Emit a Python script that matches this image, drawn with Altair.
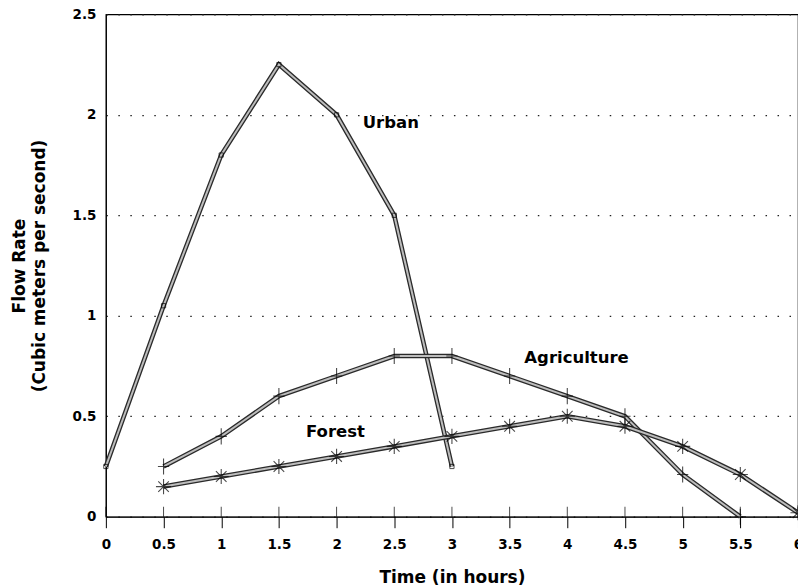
import altair as alt
import pandas as pd

# Runoff hydrographs for three land-use types
urban_t = [0, 0.5, 1, 1.5, 2, 2.5, 3]
urban_q = [0.25, 1.05, 1.8, 2.25, 2.0, 1.5, 0.25]

agri_t = [0.5, 1, 1.5, 2, 2.5, 3, 3.5, 4, 4.5, 5, 5.5]
agri_q = [0.25, 0.4, 0.6, 0.7, 0.8, 0.8, 0.7, 0.6, 0.5, 0.21, 0.0]

forest_t = [0.5, 1, 1.5, 2, 2.5, 3, 3.5, 4, 4.5, 5, 5.5, 6]
forest_q = [0.15, 0.2, 0.25, 0.3, 0.35, 0.4, 0.45, 0.5, 0.45, 0.35, 0.21, 0.02]

label_names = ["Urban", "Agriculture", "Forest"]
label_t = [2.47, 4.08, 1.99]
label_q = [1.96, 0.79, 0.42]

x_ticks = [0, 0.5, 1, 1.5, 2, 2.5, 3, 3.5, 4, 4.5, 5, 5.5, 6]
y_ticks = [0, 0.5, 1, 1.5, 2, 2.5]

W, H = 693, 503
FONT = "DejaVu Sans"

urban = pd.DataFrame({"t": urban_t, "q": urban_q})
agri = pd.DataFrame({"t": agri_t, "q": agri_q})
forest = pd.DataFrame({"t": forest_t, "q": forest_q})
labels = pd.DataFrame({"name": label_names, "t": label_t, "q": label_q})
ticks = pd.DataFrame({"t": x_ticks, "q": [0] * len(x_ticks)})

xscale = alt.Scale(domain=[0, 6], nice=False, zero=False)
yscale = alt.Scale(domain=[0, 2.5], nice=False)

x_axis = alt.Axis(
    values=x_ticks, labelExpr="datum.value", grid=False, tickSize=11,
    tickColor="black", domainColor="black", labelPadding=10,
    labelFont=FONT, labelFontSize=13.5, labelFontWeight="bold", labelColor="black",
    title="Time (in hours)", titleFont=FONT, titleFontSize=17,
    titleFontWeight="bold", titleColor="black", titlePadding=18,
    labelFlush=False,
)
y_axis = alt.Axis(
    values=y_ticks, labelExpr="datum.value", grid=True, gridDash=[1.5, 10.5],
    gridColor="#222", gridWidth=1.2, ticks=False, domainColor="black",
    labelPadding=10, labelFont=FONT, labelFontSize=13.5, labelFontWeight="bold",
    labelColor="black",
    title=["Flow Rate", "(Cubic meters per second)"], titleFont=FONT,
    titleFontSize=17, titleFontWeight="bold", titleColor="black",
    titlePadding=24, titleLineHeight=20,
)

X = alt.X("t:Q", scale=xscale, axis=x_axis)
Y = alt.Y("q:Q", scale=yscale, axis=y_axis)

# upper half of each x tick, reaching into the plot
inner_ticks = alt.Chart(ticks).mark_tick(
    color="black", size=10, thickness=1, yOffset=-5, orient="vertical"
).encode(x=X, y=Y)


def hatched(df):
    # dark edged band with a light core
    edge = alt.Chart(df).mark_line(color="#2a2a2a", strokeWidth=4.6).encode(x=X, y=Y)
    core = alt.Chart(df).mark_line(color="#bdbdbd", strokeWidth=2.0).encode(x=X, y=Y)
    return edge + core


plus_path = "M0,-1L0,1M-0.7,0L0.7,0"
star_path = "M-1,0L1,0M0,-1L0,1M-0.7,-0.7L0.7,0.7M-0.7,0.7L0.7,-0.7"

urban_pts = alt.Chart(urban).mark_point(
    shape="square", filled=False, color="black", size=18, strokeWidth=1
).encode(x=X, y=Y)
agri_pts = alt.Chart(agri).mark_point(
    shape=plus_path, filled=False, color="black", size=260, strokeWidth=1.1
).encode(x=X, y=Y)
forest_pts = alt.Chart(forest).mark_point(
    shape=star_path, filled=False, color="black", size=230, strokeWidth=1.1
).encode(x=X, y=Y)

text = alt.Chart(labels).mark_text(
    font=FONT, fontSize=16.5, fontWeight="bold", color="black", align="center",
    baseline="middle"
).encode(x=X, y=Y, text="name:N")

chart = alt.layer(
    inner_ticks,
    hatched(urban), hatched(agri), hatched(forest),
    urban_pts, agri_pts, forest_pts, text,
).properties(
    width=W, height=H,
    autosize=alt.AutoSizeParams(type="none"),
    padding={"left": 106, "top": 14, "right": 0, "bottom": 71},
    background="white",
).configure_view(stroke="black", strokeWidth=1.2)

chart.save("out.html", embed_options={"renderer": "svg", "actions": False})
